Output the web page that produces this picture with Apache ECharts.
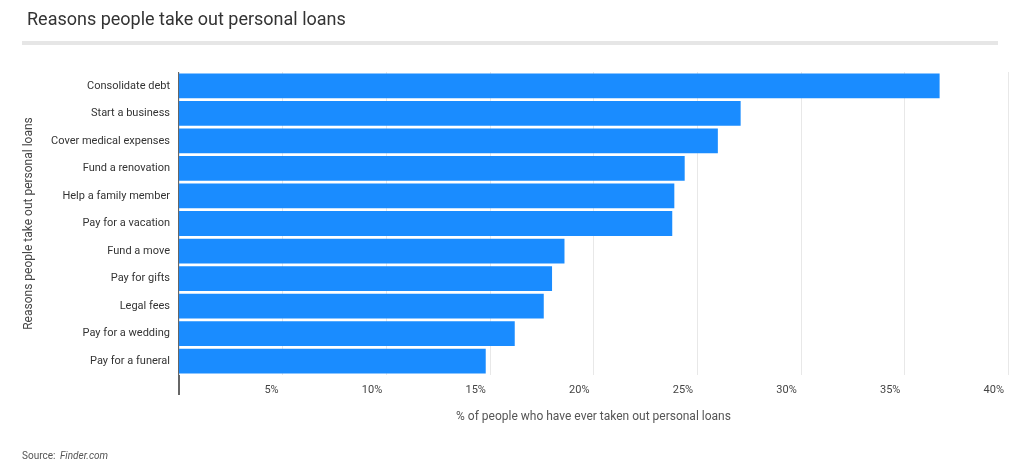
<!DOCTYPE html><html><head><meta charset="utf-8"><script src="https://cdn.jsdelivr.net/npm/echarts@6/dist/echarts.min.js"></script>
<style>html,body{margin:0;padding:0;background:#fff}#c{width:1024px;height:467px}</style></head><body><div id="c"></div><script>
const categories=["Consolidate debt","Start a business","Cover medical expenses","Fund a renovation","Help a family member","Pay for a vacation","Fund a move","Pay for gifts","Legal fees","Pay for a wedding","Pay for a funeral"];
const values=[36.7,27.1,26.0,24.4,23.9,23.8,18.6,18.0,17.6,16.2,14.8];
const xTicks=[0,5,10,15,20,25,30,35,40];
const ch=echarts.init(document.getElementById('c'));
ch.setOption({
 animation:false,
 textStyle:{fontFamily:'Roboto'},
 title:{text:'Reasons people take out personal loans',left:22,top:6,textStyle:{fontFamily:'Roboto',fontSize:18,fontWeight:'normal',color:'#333'}},
 graphic:[
  {type:'rect',shape:{x:22,y:41,width:976,height:4},style:{fill:'#e6e6e6'}},
  {type:'line',shape:{x1:179,y1:72,x2:179,y2:395},style:{stroke:'#333',lineWidth:1.5}},
  {type:'text',left:22,top:451,style:{text:'Source: ',fill:'#555',fontSize:10,fontFamily:'Roboto'}},
  {type:'text',left:60,top:451,style:{text:'Finder.com',fill:'#555',fontSize:10,fontStyle:'italic',fontFamily:'Roboto'}}
 ],
 grid:{left:179,right:16,top:72,bottom:92},
 xAxis:{type:'value',min:xTicks[0],max:xTicks[xTicks.length-1],interval:5,
  name:'% of people who have ever taken out personal loans',nameLocation:'middle',nameGap:36,
  nameTextStyle:{fontSize:12,color:'#555'},
  axisLine:{show:false},axisTick:{show:false},
  splitLine:{lineStyle:{color:'#e8e8e8'}},
  axisLabel:{margin:10,fontSize:11,color:'#444',align:'right',padding:[0,4,0,0],formatter:v=>v===0?'':v+'%'}},
 yAxis:{type:'category',data:categories,inverse:true,
  name:'Reasons people take out personal loans',nameLocation:'middle',nameGap:144,nameRotate:90,
  nameTextStyle:{fontSize:12,color:'#444'},
  axisLine:{show:false},axisTick:{show:false},
  axisLabel:{fontSize:11,color:'#333',margin:9}},
 series:[{type:'bar',data:values,barCategoryGap:'10%',itemStyle:{color:'#1a8cff'}}]
});
</script></body></html>
